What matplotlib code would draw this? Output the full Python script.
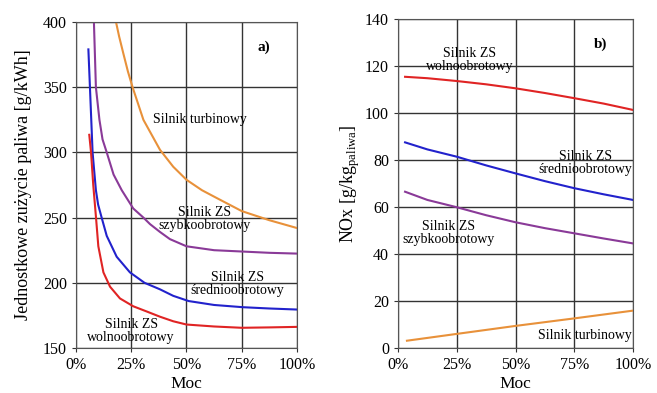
import numpy as np
import matplotlib
matplotlib.use('Agg')
import matplotlib.pyplot as plt

plt.rcParams['font.family'] = ['Liberation Serif', 'DejaVu Serif']
plt.rcParams['mathtext.fontset'] = 'custom'
plt.rcParams['mathtext.rm'] = 'Liberation Serif'

ORANGE = '#E8913A'
PURPLE = '#8A3A98'
BLUE = '#2222CC'
RED = '#E02424'

# a) Jednostkowe zuzycie paliwa [g/kWh] vs moc [%]
turb_x = [18.1, 19.5, 21.4, 23.5, 25.6, 30.5, 38, 44, 50, 57, 63.7, 75, 87.5, 100]
turb_y = [400, 389, 376, 362, 350, 325, 302, 289, 279, 271, 265, 255, 248, 242]
szyb_x = [8.1, 9, 10.6, 12, 13.9, 17, 20.7, 25.9, 30.5, 33.5, 38, 42.5, 50, 62.5, 75, 87.5, 100]
szyb_y = [400, 350, 325, 310, 300, 283, 271, 257, 250, 245, 239, 233.5, 228, 225, 224, 223, 222.4]
sred_x = [5.6, 6.3, 7.5, 9, 10, 11.6, 13.9, 18.4, 24.4, 31, 38, 44, 51, 62.5, 75.4, 87.5, 100]
sred_y = [379, 350, 300, 271, 260, 250, 236, 220, 208, 200, 195, 190, 186, 183, 181.3, 180.3, 179.5]
woln_x = [6, 6.8, 7.8, 9.05, 10.1, 12.4, 15.4, 19.9, 25.9, 32, 38, 44, 50, 62.5, 75, 87.5, 100]
woln_y = [313.5, 300, 275, 250, 228, 208, 197, 188, 182, 178, 174, 170.5, 168, 166.5, 165.5, 165.8, 166.2]

# b) NOx [g/kg paliwa] vs moc [%]
nox_x = [3, 12.5, 25, 37.5, 50, 62.5, 75, 87.5, 100]
nox_woln = [115.4, 114.8, 113.6, 112.2, 110.5, 108.5, 106.3, 104, 101.3]
nox_sred = [87.5, 84.5, 81.4, 77.7, 74.3, 71, 68, 65.4, 63]
nox_szyb = [66.5, 63, 59.9, 56.5, 53.5, 51, 48.8, 46.6, 44.5]
nox_turb_x = [3.8, 25, 50, 75, 100]
nox_turb = [3.1, 6, 9.4, 12.6, 15.9]

xticks = [0, 25, 50, 75, 100]
xlabels = ['0%', '25%', '50%', '75%', '100%']

fig = plt.figure(figsize=(6.57, 3.93), dpi=100)
ax1 = fig.add_axes([0.1157, 0.1145, 0.3363, 0.8295])
ax2 = fig.add_axes([0.6058, 0.1145, 0.3577, 0.8372])

lw = 1.5
ax1.plot(turb_x, turb_y, color=ORANGE, lw=lw)
ax1.plot(szyb_x, szyb_y, color=PURPLE, lw=lw)
ax1.plot(sred_x, sred_y, color=BLUE, lw=lw)
ax1.plot(woln_x, woln_y, color=RED, lw=lw)
ax1.set_xlim(0, 100)
ax1.set_ylim(150, 400)
ax1.set_yticks([150, 200, 250, 300, 350, 400])
ax1.set_ylabel('Jednostkowe zużycie paliwa [g/kWh]', fontsize=13, labelpad=8)

ax2.plot(nox_x, nox_woln, color=RED, lw=lw)
ax2.plot(nox_x, nox_sred, color=BLUE, lw=lw)
ax2.plot(nox_x, nox_szyb, color=PURPLE, lw=lw)
ax2.plot(nox_turb_x, nox_turb, color=ORANGE, lw=lw)
ax2.set_xlim(0, 100)
ax2.set_ylim(0, 140)
ax2.set_yticks(range(0, 141, 20))
ax2.set_ylabel(r'NOx [g/kg$_{\rm paliwa}$]', fontsize=13, labelpad=2)

for ax in (ax1, ax2):
    ax.set_xticks(xticks)
    ax.set_xticklabels(xlabels)
    ax.set_xlabel('Moc', fontsize=12.5, labelpad=2)
    ax.grid(True, color='#333333', lw=1)
    ax.tick_params(labelsize=11.5, length=3, color='#333333')
    for s in ax.spines.values():
        s.set_color('#555555')

fs = 10
ax1.text(85, 381, 'a)', fontsize=11, fontweight='bold', ha='center', va='center')
ax1.text(56, 325, 'Silnik turbinowy', fontsize=fs, ha='center', va='center')
ax1.text(58.4, 249, 'Silnik ZS\nszybkoobrotowy', fontsize=fs, ha='center', va='center', linespacing=1.0)
ax1.text(72.9, 199, 'Silnik ZS\nśrednioobrotowy', fontsize=fs, ha='center', va='center', linespacing=1.0)
ax1.text(25, 163, 'Silnik ZS\nwolnoobrotowy', fontsize=fs, ha='center', va='center', linespacing=1.0)

ax2.text(86, 129.4, 'b)', fontsize=11, fontweight='bold', ha='center', va='center')
ax2.text(30.6, 122.5, 'Silnik ZS\nwolnoobrotowy', fontsize=fs, ha='center', va='center', linespacing=1.0)
ax2.text(79.6, 78.7, 'Silnik ZS\nśrednioobrotowy', fontsize=fs, ha='center', va='center', linespacing=1.0)
ax2.text(21.3, 49, 'Silnik ZS\nszybkoobrotowy', fontsize=fs, ha='center', va='center', linespacing=1.0)
ax2.text(79.6, 5.5, 'Silnik turbinowy', fontsize=fs, ha='center', va='center')

fig.savefig('out.png', dpi=100)
